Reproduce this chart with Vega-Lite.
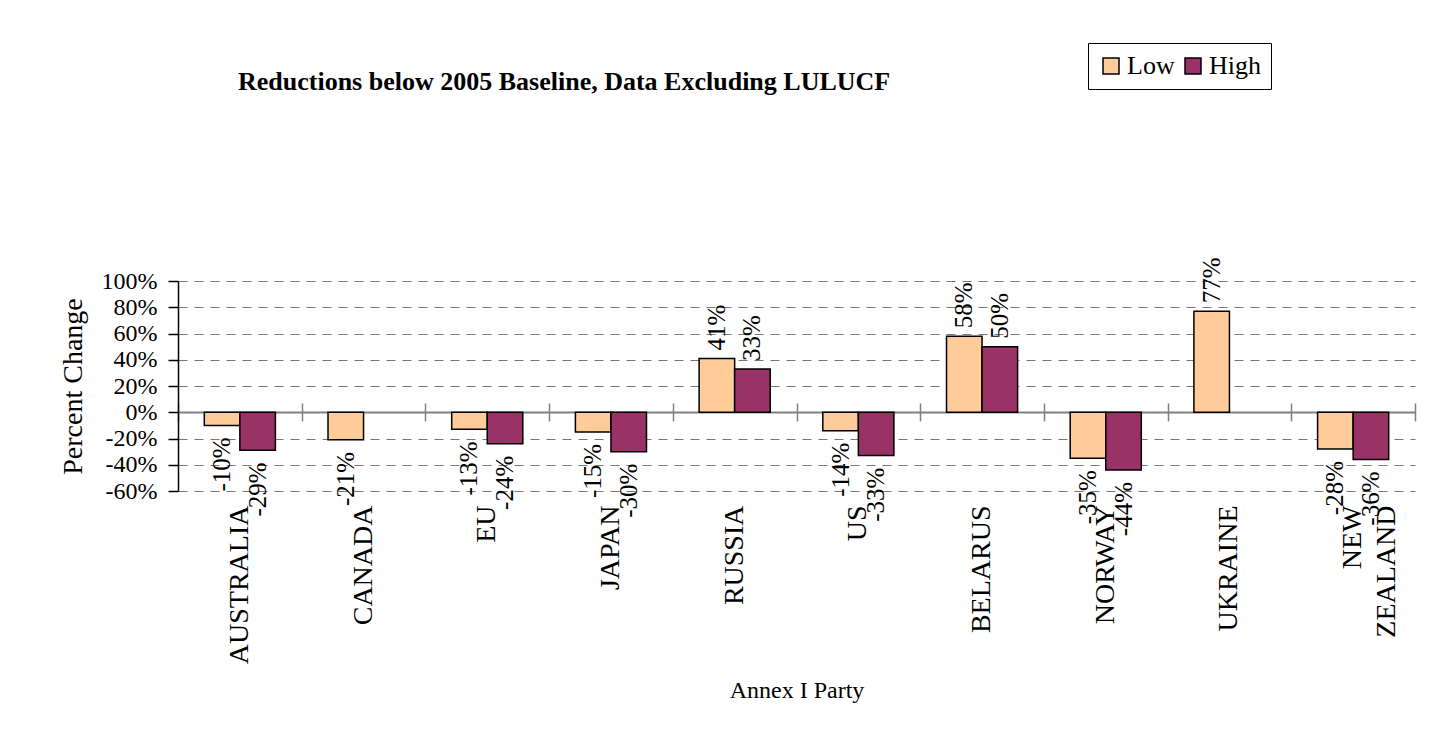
{
  "$schema": "https://vega.github.io/schema/vega-lite/v6.json",
  "width": 1237,
  "height": 210,
  "autosize": {"type": "none"},
  "padding": {"left": 178, "top": 281, "right": 41, "bottom": 258},
  "background": "white",
  "config": {
    "view": {"stroke": null},
    "locale": {"number": {"decimal": ".", "thousands": ",", "grouping": [3], "currency": ["$", ""], "minus": "-"}},
    "font": "Liberation Serif"
  },
  "title": {
    "text": "Reductions below 2005 Baseline, Data Excluding LULUCF",
    "anchor": "start",
    "frame": "group",
    "dx": 60,
    "font": "Liberation Serif",
    "fontSize": 26,
    "fontWeight": "bold",
    "color": "black",
    "baseline": "alphabetic",
    "offset": -73
  },
  "data": {
    "values": [
      {"party": "AUSTRALIA", "series": "Low", "value": -0.10},
      {"party": "AUSTRALIA", "series": "High", "value": -0.29},
      {"party": "CANADA", "series": "Low", "value": -0.21},
      {"party": "EU", "series": "Low", "value": -0.13},
      {"party": "EU", "series": "High", "value": -0.24},
      {"party": "JAPAN", "series": "Low", "value": -0.15},
      {"party": "JAPAN", "series": "High", "value": -0.30},
      {"party": "RUSSIA", "series": "Low", "value": 0.41},
      {"party": "RUSSIA", "series": "High", "value": 0.33},
      {"party": "US", "series": "Low", "value": -0.14},
      {"party": "US", "series": "High", "value": -0.33},
      {"party": "BELARUS", "series": "Low", "value": 0.58},
      {"party": "BELARUS", "series": "High", "value": 0.50},
      {"party": "NORWAY", "series": "Low", "value": -0.35},
      {"party": "NORWAY", "series": "High", "value": -0.44},
      {"party": "UKRAINE", "series": "Low", "value": 0.77},
      {"party": "NEW ZEALAND", "series": "Low", "value": -0.28},
      {"party": "NEW ZEALAND", "series": "High", "value": -0.36}
    ]
  },
  "encoding": {
    "xOffset": {"field": "series", "type": "nominal", "sort": ["Low", "High"], "scale": {"paddingInner": 0, "paddingOuter": 0.74}},
    "y": {
      "field": "value",
      "type": "quantitative",
      "scale": {"domain": [-0.6, 1.0], "nice": false},
      "axis": {
        "title": "Percent Change",
        "values": [-0.6, -0.4, -0.2, 0, 0.2, 0.4, 0.6, 0.8, 1.0],
        "format": ".0%",
        "domainColor": "black",
        "domainWidth": 1.5,
        "tickColor": "black",
        "tickSize": 10,
        "tickWidth": 1.5,
        "labelPadding": 11,
        "labelFont": "Liberation Serif",
        "labelFontSize": 24,
        "labelColor": "black",
        "grid": true,
        "gridColor": "#777777",
        "gridDash": [9, 7],
        "gridWidth": 1.2,
        "titleFont": "Liberation Serif",
        "titleFontSize": 28,
        "titleFontWeight": "normal",
        "titleColor": "black",
        "titleX": -105,
        "titleY": 105,
        "titleAngle": 270,
        "titleAlign": "center",
        "titleBaseline": "middle"
      }
    }
  },
  "layer": [
    {
      "mark": {"type": "bar", "stroke": "black", "strokeWidth": 1.5},
      "encoding": {
        "x": {
          "field": "party", "type": "nominal", "sort": null,
          "scale": {"paddingInner": 0, "paddingOuter": 0},
          "axis": {
            "orient": "bottom",
            "title": "Annex I Party",
            "domain": false,
            "ticks": false,
            "tickSize": 0,
            "grid": false,
            "labelAngle": 270,
            "labelAlign": "right",
            "labelBaseline": "middle",
            "labelPadding": 14,
            "labelFont": "Liberation Serif",
            "labelFontSize": 28,
            "labelColor": "black",
            "labelLimit": 0,
            "labelLineHeight": 34,
            "labelExpr": "split(datum.label, ' ')",
            "titleFont": "Liberation Serif",
            "titleFontSize": 24,
            "titleFontWeight": "normal",
            "titleColor": "black",
            "titleY": 206,
            "titleBaseline": "alphabetic"
          }
        },
        "color": {
          "field": "series", "type": "nominal",
          "scale": {"domain": ["Low", "High"], "range": ["#FFCC99", "#993366"]},
          "legend": {
            "title": null,
            "orient": "none",
            "legendX": 910,
            "legendY": -238,
            "direction": "horizontal",
            "strokeColor": "black",
            "fillColor": "white",
            "padding": 10,
            "symbolType": "square",
            "symbolSize": 256,
            "symbolStrokeColor": "black",
            "symbolStrokeWidth": 1.5,
            "symbolOpacity": 1,
            "labelFont": "Liberation Serif",
            "labelFontSize": 26,
            "labelColor": "black",
            "labelOffset": 3,
            "columnPadding": 5
          }
        }
      }
    },
    {
      "transform": [{"filter": "datum.value >= 0"}],
      "mark": {"type": "text", "angle": 270, "align": "left", "baseline": "middle", "dx": 8, "font": "Liberation Serif", "fontSize": 25, "color": "black"},
      "encoding": {
        "x": {
          "field": "party", "type": "nominal", "sort": null,
          "scale": {"paddingInner": 0, "paddingOuter": 0},
          "axis": {"orient": "bottom", "title": null, "labels": false, "ticks": false, "grid": false, "domain": true, "domainColor": "#808080", "domainWidth": 2, "offset": -79}
        },
        "text": {"field": "value", "type": "quantitative", "format": ".0%"}
      }
    },
    {
      "transform": [{"filter": "datum.value < 0"}],
      "mark": {"type": "text", "angle": 270, "align": "right", "baseline": "middle", "dx": -12, "font": "Liberation Serif", "fontSize": 25, "color": "black"},
      "encoding": {
        "x": {
          "field": "party", "type": "nominal", "sort": null,
          "scale": {"paddingInner": 0, "paddingOuter": 0},
          "axis": {"orient": "bottom", "title": null, "labels": false, "domain": false, "grid": false, "ticks": true, "tickBand": "extent", "tickSize": 18, "tickColor": "#808080", "tickWidth": 1.5, "offset": -88}
        },
        "text": {"field": "value", "type": "quantitative", "format": ".0%"}
      }
    }
  ],
  "resolve": {"axis": {"x": "independent"}}
}
